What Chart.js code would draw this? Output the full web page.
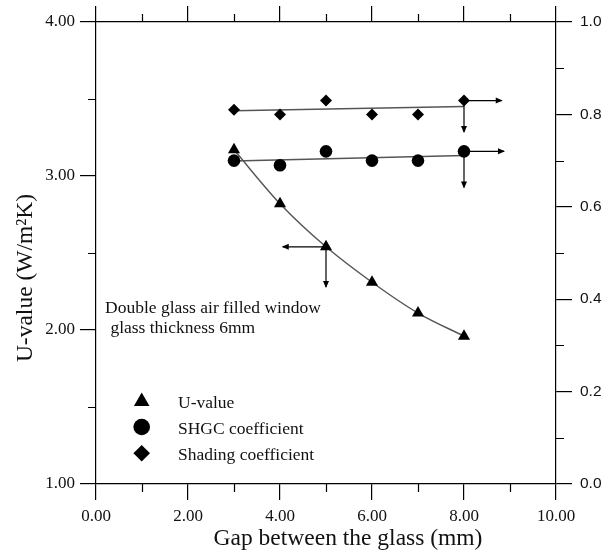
<!DOCTYPE html>
<html>
<head>
<meta charset="utf-8">
<script src="https://cdn.jsdelivr.net/npm/chart.js@4.4.1/dist/chart.umd.min.js"></script>
<style>
  html, body { margin: 0; padding: 0; background: #fff; }
  #wrap { width: 605px; height: 552px; position: relative; }
</style>
</head>
<body>
<div id="wrap"><canvas id="chart"></canvas></div>
<script>
// values
const gap = [3, 4, 5, 6, 7, 8];
const uValue = [3.17, 2.82, 2.54, 2.31, 2.11, 1.96];
const shgc = [0.70, 0.69, 0.72, 0.70, 0.70, 0.72];
const shading = [0.81, 0.80, 0.83, 0.80, 0.80, 0.83];

// straight fit lines (ends at gap 3 and 8)
const fitGap = [3, 8];
const shgcFit = [0.699, 0.711];
const shadingFit = [0.808, 0.817];

// arrows pointing at the axis each series uses: [x0, y0, x1, y1]
const uArrows = [[5, 2.54, 4.06, 2.54], [5, 2.54, 5, 2.28]];
const shgcArrows = [[8, 0.72, 8.87, 0.72], [8, 0.72, 8, 0.642]];
const shadingArrows = [[8, 0.83, 8.82, 0.83], [8, 0.83, 8, 0.762]];

const xTicks = [0, 2, 4, 6, 8, 10];
const legendLabels = ["U-value", "SHGC coefficient", "Shading coefficient"];
const noteLines = ["Double glass air filled window", " glass thickness 6mm"];
const xTitle = "Gap between the glass (mm)";
const yTitle = "U-value (W/m\u00B2K)";

const SERIF = "'Liberation Serif', 'Times New Roman', serif";
const SANS = "'Liberation Sans', Arial, sans-serif";
const INK = "#111";

const pts = (xs, ys) => xs.map((x, i) => ({ x: x, y: ys[i] }));

function arrowSets(list, axis) {
    return list.map(a => ({
        data: [{ x: a[0], y: a[1] }, { x: a[2], y: a[3] }],
        yAxisID: axis, showLine: true, pointRadius: 0,
        borderColor: '#000', borderWidth: 1.2, arrow: true, order: 1
    }));
}

// legend markers are drawn a bit bigger than the plot ones
const legendMarkers = [
    { pointStyle: 'triangle', radius: 9 },
    { pointStyle: 'circle', radius: 8.3 },
    { pointStyle: 'rectRot', radius: 8.3 }
];

const datasets = [
    { data: pts(gap, uValue), yAxisID: 'y', pointStyle: 'triangle', pointRadius: 7, backgroundColor: '#000', borderWidth: 0, order: 0 },
    { data: pts(gap, shgc), yAxisID: 'y2', pointStyle: 'circle', pointRadius: 6.3, backgroundColor: '#000', borderWidth: 0, order: 0 },
    { data: pts(gap, shading), yAxisID: 'y2', pointStyle: 'rectRot', pointRadius: 6, backgroundColor: '#000', borderWidth: 0, order: 0 },
    { data: pts(gap, uValue), yAxisID: 'y', showLine: true, pointRadius: 0, borderColor: '#555', borderWidth: 1.4, cubicInterpolationMode: 'monotone', order: 2 },
    { data: pts(fitGap, shgcFit), yAxisID: 'y2', showLine: true, pointRadius: 0, borderColor: '#555', borderWidth: 1.4, order: 2 },
    { data: pts(fitGap, shadingFit), yAxisID: 'y2', showLine: true, pointRadius: 0, borderColor: '#555', borderWidth: 1.4, order: 2 }
].concat(arrowSets(uArrows, 'y'), arrowSets(shgcArrows, 'y2'), arrowSets(shadingArrows, 'y2'));

const axisGrid = { display: true, drawOnChartArea: false, drawTicks: true, tickLength: 16, color: '#000', lineWidth: 1.2 };
const axisBorder = { display: true, color: '#000', width: 1.2 };

// minor ticks, arrowheads, legend and texts
const extras = {
    id: 'extras',
    afterDatasetsDraw(chart) {
        const ctx = chart.ctx;
        const s = chart.scales;
        ctx.save();
        ctx.strokeStyle = '#000';
        ctx.lineWidth = 1.2;

        // minor ticks
        ctx.beginPath();
        [1, 3, 5, 7, 9].forEach(v => {
            const px = Math.round(s.x.getPixelForValue(v)) + 0.5;
            ctx.moveTo(px, s.x.top); ctx.lineTo(px, s.x.top + 8);
            ctx.moveTo(px, s.x2.bottom); ctx.lineTo(px, s.x2.bottom - 8);
        });
        [1.5, 2.5, 3.5].forEach(v => {
            const py = Math.round(s.y.getPixelForValue(v)) + 0.5;
            ctx.moveTo(s.y.right, py); ctx.lineTo(s.y.right - 8, py);
        });
        [0.1, 0.3, 0.5, 0.7, 0.9].forEach(v => {
            const py = Math.round(s.y2.getPixelForValue(v)) + 0.5;
            ctx.moveTo(s.y2.left, py); ctx.lineTo(s.y2.left + 8, py);
        });
        ctx.stroke();

        // arrowheads
        ctx.fillStyle = '#000';
        chart.data.datasets.forEach((ds, i) => {
            if (!ds.arrow) return;
            const p = chart.getDatasetMeta(i).data;
            const a = p[0], b = p[1];
            const ang = Math.atan2(b.y - a.y, b.x - a.x);
            ctx.save();
            ctx.translate(b.x, b.y);
            ctx.rotate(ang);
            ctx.beginPath();
            ctx.moveTo(1, 0); ctx.lineTo(-6, -3); ctx.lineTo(-6, 3);
            ctx.closePath();
            ctx.fill();
            ctx.restore();
        });

        // legend
        const ly = [401.5, 427, 453.3];
        legendLabels.forEach((txt, i) => {
            ctx.fillStyle = '#000';
            Chart.helpers.drawPoint(ctx, { pointStyle: legendMarkers[i].pointStyle, radius: legendMarkers[i].radius, rotation: 0, borderWidth: 0 }, 141.7, ly[i]);
            ctx.fillStyle = INK;
            ctx.font = '17.5px ' + SERIF;
            ctx.textBaseline = 'alphabetic';
            ctx.textAlign = 'left';
            ctx.fillText(txt, 178, ly[i] + 6.8);
        });

        // note
        ctx.fillText(noteLines[0], 105, 313);
        ctx.fillText(noteLines[1], 106, 333);

        // axis titles
        ctx.font = '23.5px ' + SERIF;
        ctx.textAlign = 'center';
        ctx.fillText(xTitle, 348, 545);
        ctx.save();
        ctx.translate(31.5, 278);
        ctx.rotate(-Math.PI / 2);
        ctx.fillText(yTitle, 0, 0);
        ctx.restore();

        ctx.restore();
    }
};

new Chart(document.getElementById('chart'), {
    type: 'scatter',
    data: { datasets: datasets },
    options: {
        responsive: true,
        maintainAspectRatio: false,
        animation: false,
        devicePixelRatio: 1,
        layout: { padding: 0 },
        plugins: { legend: { display: false }, tooltip: { enabled: false } },
        scales: {
            x: {
                type: 'linear', position: 'bottom', min: 0, max: 10,
                afterBuildTicks: sc => { sc.ticks = xTicks.map(v => ({ value: v })); },
                ticks: { callback: v => v.toFixed(2), font: { family: SERIF, size: 17 }, color: INK, padding: 6, autoSkip: false, maxRotation: 0 },
                grid: axisGrid, border: axisBorder,
                afterFit: sc => { sc.height = 68; }
            },
            x2: {
                type: 'linear', position: 'top', min: 0, max: 10,
                afterBuildTicks: sc => { sc.ticks = xTicks.map(v => ({ value: v })); },
                ticks: { display: false },
                grid: axisGrid, border: axisBorder,
                afterFit: sc => { sc.height = 22; }
            },
            y: {
                type: 'linear', position: 'left', min: 1, max: 4,
                ticks: { stepSize: 1, callback: v => v.toFixed(2), font: { family: SERIF, size: 17 }, color: INK, padding: 5 },
                grid: axisGrid, border: axisBorder,
                afterFit: sc => { sc.width = 96; }
            },
            y2: {
                type: 'linear', position: 'right', min: 0, max: 1,
                ticks: { stepSize: 0.2, callback: v => v.toFixed(1), font: { family: SANS, size: 15.5 }, color: INK, padding: 8 },
                grid: axisGrid, border: axisBorder,
                afterFit: sc => { sc.width = 49; }
            }
        }
    },
    plugins: [extras]
});
</script>
</body>
</html>
